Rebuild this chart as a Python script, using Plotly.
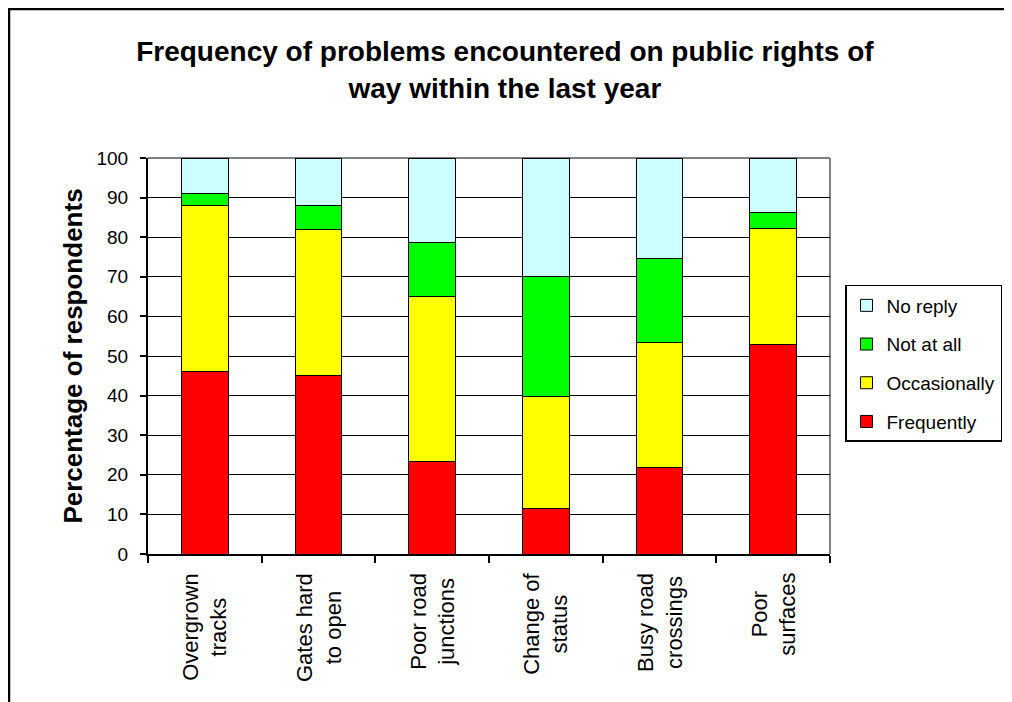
import plotly.graph_objects as go

categories = ['Overgrown<br>tracks', 'Gates hard<br>to open', 'Poor road<br>junctions',
              'Change of<br>status', 'Busy road<br>crossings', 'Poor<br>surfaces']
frequently = [46, 45, 23.3, 11.6, 21.8, 52.9]
occasionally = [42, 37, 41.8, 28.2, 31.7, 29.3]
not_at_all = [3, 6, 13.6, 30.3, 21.2, 4.1]
no_reply = [9, 12, 21.3, 29.9, 25.3, 13.7]

series_names = ['Frequently', 'Occasionally', 'Not at all', 'No reply']
series_colors = ['#ff0000', '#ffff00', '#00ff00', '#ccffff']
y_ticks = list(range(0, 101, 10))

font_family = 'Arial, Liberation Sans, sans-serif'

fig = go.Figure()
series = [frequently, occasionally, not_at_all, no_reply]
for i, (name, values, color) in enumerate(zip(series_names, series, series_colors)):
    # legend lists the top segment first
    fig.add_trace(go.Bar(x=categories, y=values, name=name, legendgroup=name,
                         legendrank=len(series_names) - i,
                         marker=dict(color=color, line=dict(color='black', width=1))))

# category labels, rotated and centred like the original
for cat in categories:
    fig.add_annotation(x=cat, y=0, xref='x', yref='paper', yshift=-17,
                       text=cat, textangle=-90, showarrow=False, align='center',
                       xanchor='center', yanchor='top',
                       font=dict(family=font_family, size=22, color='black'))

# plot area border (grey top/right)
fig.add_shape(type='line', xref='paper', yref='paper', x0=0, x1=1, y0=1, y1=1,
              line=dict(color='#808080', width=2), layer='between')
fig.add_shape(type='line', xref='paper', yref='paper', x0=1, x1=1, y0=0, y1=1,
              line=dict(color='#808080', width=2), layer='between')
# chart frame (left and top edges are what shows)
fig.add_shape(type='rect', xref='paper', yref='paper', x0=-0.2038, x1=1.3, y0=-0.45, y1=1.3763,
              line=dict(color='black', width=2.5), layer='above')

fig.update_layout(
    barmode='stack',
    bargap=0.587,
    width=1012, height=702,
    # page body adds 8px, so everything is shifted up/left by 8
    margin=dict(l=140, r=190, t=150, b=156, autoexpand=False),
    paper_bgcolor='white', plot_bgcolor='white',
    font=dict(family=font_family, size=19, color='black'),
    title=dict(text='<b>Frequency of problems encountered on public rights of<br>way within the last year</b>',
               x=0.491, xref='container', xanchor='center',
               y=0.924, yref='container', yanchor='middle',
               font=dict(family=font_family, size=28, color='black')),
    legend=dict(x=1.022, y=0.6793, xanchor='left', yanchor='top',
                traceorder='grouped', tracegroupgap=11, itemwidth=30,
                bgcolor='white', bordercolor='black', borderwidth=1.5,
                font=dict(family=font_family, size=19, color='black')),
)

fig.update_xaxes(showticklabels=False, ticks='outside', tickson='boundaries', ticklen=7,
                 tickcolor='black', tickwidth=1.5, showline=True, linecolor='black', linewidth=2,
                 showgrid=False)
fig.update_yaxes(range=[0, 100], tickvals=y_ticks, ticks='outside', ticklen=6,
                 tickcolor='black', tickwidth=1.5, showline=True, linecolor='black', linewidth=2,
                 showgrid=True, gridcolor='black', gridwidth=1, zeroline=False,
                 ticklabelstandoff=8,
                 title=dict(text='<b>Percentage of respondents</b>', standoff=6,
                            font=dict(family=font_family, size=26, color='black')))

fig.write_html('out.html')
